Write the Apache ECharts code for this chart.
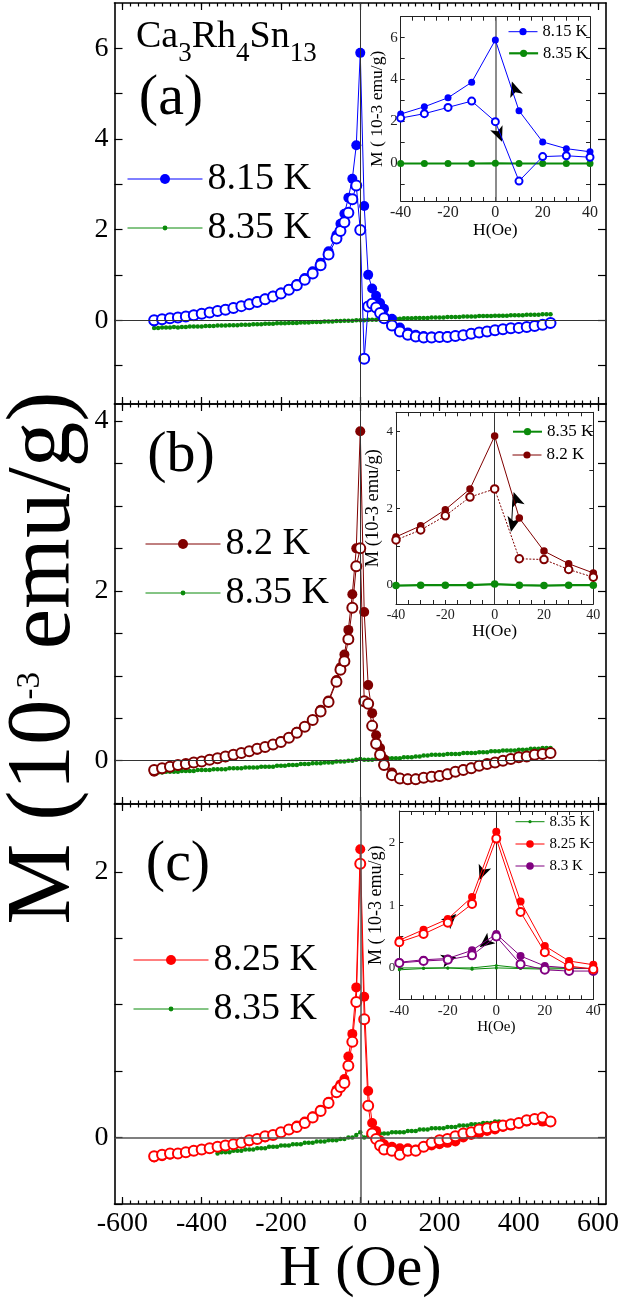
<!DOCTYPE html>
<html><head><meta charset="utf-8">
<script src="https://cdn.jsdelivr.net/npm/echarts@6/dist/echarts.min.js"></script>
<style>html,body{margin:0;padding:0;background:#fff}#c{width:641px;height:1307px}</style>
</head><body><div id="c"></div>
<script>
// ---------------- DATA ----------------
const H_MAIN = [-520,-500,-480,-460,-440,-420,-400,-380,-360,-340,-320,-300,-280,-260,-240,-220,-200,-180,-160,-140,-120,-100,-80,-60,
  -50,-40,-30,-20,-10,0,10,20,30,40,50,
  60,80,100,120,140,160,180,200,220,240,260,280,300,320,340,360,380,400,420,440,460,480];
// panel (a) 8.15 K
const A_815_FILLED = [-0.03,0.01,0.04,0.06,0.09,0.12,0.15,0.18,0.21,0.24,0.28,0.32,0.37,0.42,0.48,0.54,0.61,0.69,0.80,0.93,1.08,1.27,1.52,1.88,
  2.13,2.35,2.70,3.12,3.86,5.90,2.52,1.00,0.70,0.54,0.38,
  0.25,0.03,-0.16,-0.27,-0.32,-0.35,-0.36,-0.36,-0.35,-0.34,-0.32,-0.29,-0.27,-0.24,-0.22,-0.20,-0.18,-0.16,-0.15,-0.13,-0.10,-0.06];
const A_815_OPEN = [0.00,0.02,0.04,0.06,0.08,0.11,0.14,0.17,0.20,0.23,0.27,0.31,0.35,0.40,0.46,0.52,0.59,0.67,0.77,0.89,1.03,1.21,1.45,1.80,
  1.97,2.16,2.37,2.67,2.97,1.99,-0.85,0.30,0.36,0.28,0.16,
  0.04,-0.12,-0.25,-0.32,-0.36,-0.38,-0.38,-0.37,-0.37,-0.35,-0.33,-0.30,-0.27,-0.25,-0.22,-0.20,-0.18,-0.17,-0.15,-0.13,-0.10,-0.06];
// panel (b) 8.2 K
const B_82_FILLED = [-0.13,-0.10,-0.08,-0.06,-0.05,-0.03,-0.01,0.01,0.03,0.04,0.06,0.09,0.11,0.13,0.16,0.19,0.23,0.27,0.34,0.40,0.48,0.60,0.71,0.95,
  1.10,1.25,1.54,1.96,2.50,3.88,1.75,0.89,0.56,0.30,0.15,
  0.02,-0.14,-0.20,-0.21,-0.21,-0.20,-0.18,-0.17,-0.15,-0.13,-0.10,-0.08,-0.06,-0.04,-0.02,0.00,0.02,0.04,0.05,0.07,0.08,0.09];
const B_82_OPEN = [-0.11,-0.09,-0.07,-0.05,-0.04,-0.02,-0.01,0.01,0.03,0.05,0.07,0.09,0.11,0.14,0.16,0.19,0.22,0.27,0.33,0.40,0.48,0.58,0.69,0.93,
  1.07,1.17,1.43,1.80,2.29,2.50,0.70,0.67,0.41,0.20,0.07,
  -0.05,-0.17,-0.21,-0.22,-0.22,-0.20,-0.19,-0.18,-0.16,-0.13,-0.11,-0.09,-0.06,-0.04,-0.02,0.00,0.02,0.04,0.05,0.07,0.08,0.09];
// panel (c) 8.25 K
const C_825_FILLED = [-0.15,-0.14,-0.13,-0.12,-0.11,-0.10,-0.09,-0.08,-0.07,-0.06,-0.05,-0.04,-0.03,-0.01,0.00,0.02,0.04,0.06,0.09,0.12,0.16,0.21,0.27,0.36,
  0.40,0.44,0.61,0.78,1.13,2.17,1.06,0.35,0.11,0.05,-0.02,
  -0.05,-0.07,-0.08,-0.08,-0.09,-0.07,-0.06,-0.05,-0.04,-0.03,0.00,0.02,0.03,0.05,0.06,0.08,0.09,0.11,0.12,0.13,0.12,0.12];
const C_825_OPEN = [-0.14,-0.13,-0.12,-0.12,-0.11,-0.10,-0.09,-0.08,-0.07,-0.06,-0.05,-0.04,-0.02,-0.01,0.01,0.02,0.04,0.06,0.08,0.11,0.15,0.20,0.26,0.34,
  0.38,0.41,0.54,0.72,1.02,2.06,0.89,0.24,0.03,-0.01,-0.06,
  -0.09,-0.10,-0.13,-0.10,-0.10,-0.07,-0.04,-0.02,-0.01,0.01,0.03,0.04,0.06,0.07,0.08,0.09,0.10,0.11,0.13,0.14,0.15,0.12];
// 8.35 K reference curves
const H_835_AB = [-520,-510,-500,-490,-480,-470,-460,-450,-440,-430,-420,-410,-400,-390,-380,-370,-360,-350,-340,-330,
  -320,-310,-300,-290,-280,-270,-260,-250,-240,-230,-220,-210,-200,-190,-180,-170,-160,-150,-140,-130,
  -120,-110,-100,-90,-80,-70,-60,-50,-40,-30,-20,-10,0,10,20,30,40,50,60,70,
  80,90,100,110,120,130,140,150,160,170,180,190,200,210,220,230,240,250,260,270,
  280,290,300,310,320,330,340,350,360,370,380,390,400,410,420,430,440,450,460,470,480];
const A_835 = [-0.17,-0.17,-0.16,-0.16,-0.16,-0.15,-0.16,-0.15,-0.15,-0.14,
  -0.14,-0.14,-0.14,-0.13,-0.13,-0.13,-0.12,-0.12,-0.12,-0.11,
  -0.11,-0.11,-0.10,-0.10,-0.10,-0.09,-0.09,-0.09,-0.08,-0.08,
  -0.08,-0.07,-0.07,-0.07,-0.06,-0.06,-0.06,-0.05,-0.05,-0.05,
  -0.04,-0.04,-0.04,-0.03,-0.03,-0.03,-0.02,-0.02,-0.01,-0.01,
  -0.01,0.00,0.00,0.00,0.01,0.01,0.01,0.02,0.02,0.02,
  0.03,0.03,0.03,0.04,0.04,0.04,0.05,0.05,0.05,0.05,
  0.06,0.06,0.06,0.06,0.07,0.07,0.07,0.07,0.08,0.08,
  0.08,0.08,0.09,0.09,0.09,0.09,0.10,0.10,0.10,0.10,
  0.11,0.11,0.11,0.11,0.12,0.12,0.12,0.12,0.13,0.13,0.13];
const B_835 = [-0.14,-0.14,-0.14,-0.13,-0.13,-0.13,-0.13,-0.12,-0.12,-0.12,
  -0.12,-0.11,-0.11,-0.11,-0.11,-0.10,-0.10,-0.10,-0.10,-0.09,
  -0.09,-0.09,-0.09,-0.08,-0.08,-0.08,-0.08,-0.07,-0.07,-0.07,
  -0.07,-0.06,-0.06,-0.06,-0.05,-0.05,-0.05,-0.04,-0.04,-0.04,
  -0.03,-0.03,-0.03,-0.02,-0.02,-0.02,-0.01,-0.01,-0.01,0.00,
  0.00,0.01,0.02,0.01,0.01,0.01,0.02,0.02,0.02,0.03,
  0.03,0.03,0.03,0.04,0.04,0.04,0.05,0.05,0.06,0.06,
  0.07,0.07,0.07,0.07,0.08,0.08,0.08,0.08,0.09,0.09,
  0.09,0.09,0.10,0.10,0.10,0.11,0.11,0.11,0.12,0.12,
  0.12,0.12,0.13,0.13,0.13,0.14,0.14,0.14,0.15,0.15,0.15];
const H_835_C = [-360,-350,-340,-330,-320,-310,-300,-290,-280,-270,-260,-250,-240,-230,-220,-210,-200,-190,-180,-170,
  -160,-150,-140,-130,-120,-110,-100,-90,-80,-70,-60,-50,-40,-30,-20,-10,0,10,20,30,
  40,50,60,70,80,90,100,110,120,130,140,150,160,170,180,190,200,210,220,230,
  240,250,260,270,280,290,300,310,320,330,340,350];
const C_835 = [-0.12,-0.11,-0.11,-0.11,-0.10,-0.10,-0.10,-0.09,-0.09,-0.09,
  -0.08,-0.08,-0.08,-0.07,-0.07,-0.07,-0.06,-0.06,-0.06,-0.05,
  -0.05,-0.05,-0.04,-0.04,-0.04,-0.03,-0.03,-0.03,-0.02,-0.02,
  -0.02,-0.01,-0.01,0.00,0.00,0.02,0.04,0.00,0.01,0.02,
  0.02,0.03,0.03,0.03,0.04,0.04,0.04,0.04,0.05,0.05,
  0.05,0.06,0.06,0.06,0.07,0.07,0.07,0.07,0.08,0.08,
  0.08,0.09,0.09,0.09,0.10,0.10,0.10,0.11,0.11,0.11,
  0.12,0.12];
// insets (H = -40 ... 40 Oe)
const H_IN = [-40,-30,-20,-10,0,10,20,30,40];
const IA_815_FILLED = [2.35,2.70,3.13,3.87,5.89,2.51,1.02,0.70,0.55];
const IA_815_OPEN = [2.16,2.37,2.67,2.97,1.99,-0.85,0.32,0.36,0.29];
const IA_835 = [-0.01,-0.01,-0.01,-0.01,0.00,-0.01,-0.01,-0.01,-0.01];
const IB_82_FILLED = [1.25,1.54,1.96,2.50,3.88,1.74,0.88,0.55,0.31];
const IB_82_OPEN = [1.17,1.43,1.80,2.29,2.50,0.68,0.66,0.40,0.20];
const IB_835 = [-0.02,-0.01,-0.01,-0.01,0.02,-0.01,-0.02,-0.01,-0.01];
const IC_825_FILLED = [0.44,0.61,0.78,1.13,2.17,1.06,0.35,0.11,0.05];
const IC_825_OPEN = [0.41,0.54,0.72,1.02,2.06,0.89,0.25,0.03,-0.02];
const IC_83_FILLED = [0.09,0.13,0.15,0.28,0.54,0.19,0.03,0.00,-0.01];
const IC_83_OPEN = [0.08,0.11,0.13,0.20,0.50,0.06,-0.03,-0.05,-0.05];
const IC_835_UP = [-0.03,-0.01,0.00,-0.02,0.00,-0.01,-0.02,-0.01,-0.01];
const IC_835_DOWN = [0.00,0.00,0.00,0.00,0.04,0.00,0.00,0.00,-0.01];
// arrows [H, M, rotation deg]
const ARROWS_A = [[7.0,3.9,18],[2.8,1.03,202]];
const ARROWS_B = [[7.7,2.42,18],[6.6,1.38,168]];
const ARROW_LINE_B = [[7.5,2.3],[6.8,1.5]];
const ARROWS_C = [[-6.9,1.40,159],[-16.5,0.86,-46],[-6.9,0.33,128],[-16.5,0.17,-75]];
// ticks
const X_MAJOR = [-600,-400,-200,0,200,400,600];
const XI_LABELS = [-40,-20,0,20,40];
const Y_TICKS_A = [-1,0,1,2,3,4,5,6], Y_LABELS_A = [0,2,4,6];
const Y_TICKS_B = [-0.5,0,0.5,1,1.5,2,2.5,3,3.5,4], Y_LABELS_B = [0,2,4];
const Y_TICKS_C = [-0.5,0,0.5,1,1.5,2], Y_LABELS_C = [0,2];
const YI_TICKS_A = [-1,0,1,2,3,4,5,6], YI_LABELS_A = [0,2,4,6];
const YI_TICKS_B = [0,1,2,3,4], YI_LABELS_B = [0,2,4];
const YI_TICKS_C = [-0.5,0,0.5,1,1.5,2], YI_LABELS_C = [0,1,2];

// ---------------- BUILD ----------------
const FONT = 'Liberation Serif';
const X_MINOR = []; for (let v = -600; v <= 600; v += 20) X_MINOR.push(v);
const XI_TICKS = []; for (let v = -40; v <= 40; v += 5) XI_TICKS.push(v);
const zip = (xs, ys) => xs.map((x, i) => [x, ys[i]]);
const grids = [], xAxes = [], yAxes = [], series = [], legends = [], graphics = [];

function xAxis(gi, pos, min, max, o) {
  xAxes.push({type: 'value', gridIndex: gi, position: pos, min, max, splitLine: {show: false},
    axisLine: {show: o.line !== false, onZero: false, lineStyle: {color: o.color, width: o.lw}},
    axisTick: {show: true, inside: true, length: o.tl, customValues: o.ticks, lineStyle: {color: o.color, width: o.tw}},
    axisLabel: {show: !!o.labels, customValues: o.labels || [], margin: o.margin || 6, fontFamily: FONT, fontSize: o.fs || 12, color: o.lc || '#000'},
    name: o.name || '', nameLocation: 'middle', nameGap: o.nameGap || 0,
    nameTextStyle: {fontFamily: FONT, fontSize: o.nameFs || 12, color: '#000', lineHeight: o.nameLh || o.nameFs || 12}
  });
  return xAxes.length - 1;
}
function yAxis(gi, pos, min, max, o) {
  yAxes.push({type: 'value', gridIndex: gi, position: pos, min, max, splitLine: {show: false},
    axisLine: {show: true, onZero: false, lineStyle: {color: o.color, width: o.lw}},
    axisTick: {show: true, inside: true, length: o.tl, customValues: o.ticks, lineStyle: {color: o.color, width: o.tw}},
    axisLabel: {show: !!o.labels, customValues: o.labels || [], margin: o.margin || 6, fontFamily: FONT, fontSize: o.fs || 12, color: o.lc || '#000'},
    name: o.name || '', nameLocation: 'middle', nameGap: o.nameGap || 0, nameRotate: 90,
    nameTextStyle: {fontFamily: FONT, fontSize: o.nameFs || 12, color: '#000'}
  });
  return yAxes.length - 1;
}

function mainPanel(top, height, ymin, ymax, yTicks, yLabels, showX) {
  grids.push({left: 114.5, top, width: 491.5, height});
  const gi = grids.length - 1;
  const base = {color: '#000', lw: 1.6, tw: 1.2};
  const xi = xAxis(gi, 'bottom', -620, 620, Object.assign({}, base, {tl: 7, ticks: X_MAJOR,
    labels: showX ? X_MAJOR : null, fs: 28, margin: 6,
    name: showX ? 'H (Oe)' : '', nameGap: 36, nameFs: 58, nameLh: 60}));
  xAxis(gi, 'bottom', -620, 620, Object.assign({}, base, {tl: 3.5, ticks: X_MINOR, line: false}));
  xAxis(gi, 'top', -620, 620, Object.assign({}, base, {tl: 7, ticks: X_MAJOR}));
  xAxis(gi, 'top', -620, 620, Object.assign({}, base, {tl: 3.5, ticks: X_MINOR, line: false}));
  const yi = yAxis(gi, 'left', ymin, ymax, Object.assign({}, base, {tl: 8, ticks: yTicks, labels: yLabels, fs: 28, margin: 6}));
  yAxis(gi, 'right', ymin, ymax, Object.assign({}, base, {tl: 8, ticks: yTicks}));
  return {xi, yi};
}
function insetPanel(left, top, width, height, ymin, ymax, yTicks, yLabels, o) {
  grids.push({left, top, width, height});
  const gi = grids.length - 1;
  const base = {color: '#222', lw: 1, tw: 1, lc: '#222'};
  const xi = xAxis(gi, 'bottom', -40, 40, Object.assign({}, base, {tl: 4, ticks: XI_TICKS, labels: XI_LABELS,
    fs: o.xfs, margin: 4, name: o.xname, nameGap: o.xgap, nameFs: o.xnfs}));
  xAxis(gi, 'top', -40, 40, Object.assign({}, base, {tl: 4, ticks: XI_TICKS}));
  const yi = yAxis(gi, 'left', ymin, ymax, Object.assign({}, base, {tl: 4, ticks: yTicks, labels: yLabels,
    fs: o.yfs, margin: o.ymargin, name: o.yname, nameGap: o.ygap, nameFs: o.ynfs}));
  yAxis(gi, 'right', ymin, ymax, Object.assign({}, base, {tl: 4, ticks: yTicks}));
  return {xi, yi};
}

function lineSeries(ax, name, H, M, color, o) {
  const s = {type: 'line', name, xAxisIndex: ax.xi, yAxisIndex: ax.yi, data: zip(H, M),
    symbol: o.open ? 'emptyCircle' : 'circle', symbolSize: o.size, showSymbol: true,
    lineStyle: {color, width: o.lw || 1, type: o.dash || 'solid'},
    itemStyle: o.open ? {color, borderColor: color, borderWidth: o.bw || 1.2} : {color, borderWidth: 0},
    emphasis: {disabled: true}, z: o.z || 2, animation: false, silent: true};
  if (o.markLine) s.markLine = o.markLine;
  if (o.markPoint) s.markPoint = o.markPoint;
  series.push(s);
  return s;
}
function zeroLines(color, width, both) {
  const d = [{xAxis: 0}];
  if (both) d.push({yAxis: 0});
  return {silent: true, symbol: ['none', 'none'], label: {show: false}, lineStyle: {color, width, type: 'solid'},
    emphasis: {disabled: true}, data: d, animation: false};
}
function arrows(list) {
  return {silent: true, symbol: 'arrow', label: {show: false}, itemStyle: {color: '#000'}, animation: false,
    data: list.map(a => ({coord: [a[0], a[1]], symbolRotate: a[2], symbolSize: [10, 15]}))};
}
function leg(name, left, cy, o) {
  const lh = o.lh;
  legends.push({show: true, selectedMode: false, orient: 'horizontal', left, top: cy - Math.max(lh, o.ih) / 2,
    padding: 0, itemWidth: o.iw, itemHeight: o.ih, itemTextGap: o.gap, itemGap: 0,
    textStyle: {fontFamily: FONT, fontSize: o.fs, lineHeight: lh, color: '#000'},
    data: [{name, itemStyle: {color: o.color, borderColor: o.color, borderWidth: 0}, lineStyle: {color: o.color, width: o.lw}}]});
}

const BLUE = '#0000ff', GREEN = '#0a8a0a', DRED = '#800000', RED = '#ff0000', PURPLE = '#800080';

// main panels
const pa = mainPanel(3, 401, -1.85, 7.0, Y_TICKS_A, Y_LABELS_A, false);
const pb = mainPanel(404, 400, -0.51, 4.2, Y_TICKS_B, Y_LABELS_B, false);
const pc = mainPanel(804, 400, -0.5, 2.51, Y_TICKS_C, Y_LABELS_C, true);

lineSeries(pa, '8.35 K', H_835_AB, A_835, GREEN, {size: 4.5, markLine: zeroLines('#333', 1, true)});
lineSeries(pa, '8.15 K', H_MAIN, A_815_FILLED, BLUE, {size: 10, z: 3});
lineSeries(pa, '8.15 K open', H_MAIN, A_815_OPEN, BLUE, {size: 10, open: true, z: 4});

lineSeries(pb, '8.35 K', H_835_AB, B_835, GREEN, {size: 4.5, markLine: zeroLines('#333', 1, true)});
lineSeries(pb, '8.2 K', H_MAIN, B_82_FILLED, DRED, {size: 10, z: 3});
lineSeries(pb, '8.2 K open', H_MAIN, B_82_OPEN, DRED, {size: 10, open: true, z: 4});

lineSeries(pc, '8.35 K', H_835_C, C_835, GREEN, {size: 4.5, markLine: zeroLines('#555', 1.5, true)});
lineSeries(pc, '8.25 K', H_MAIN, C_825_FILLED, RED, {size: 10, z: 3});
lineSeries(pc, '8.25 K open', H_MAIN, C_825_OPEN, RED, {size: 10, open: true, z: 4});

// insets
const ia = insetPanel(400.7, 16.7, 189.3, 184.3, -1.8, 7.0, YI_TICKS_A, YI_LABELS_A,
  {xfs: 16, xname: 'H(Oe)', xgap: 20, xnfs: 17.5, yfs: 15, ymargin: 3, yname: 'M ( 10-3 emu/g)', ygap: 14, ynfs: 17.5});
lineSeries(ia, '8.35 K', H_IN, IA_835, GREEN, {size: 7, lw: 2.2, z: 5, markLine: zeroLines('#666', 1.5, false)});
lineSeries(ia, '8.15 K', H_IN, IA_815_FILLED, BLUE, {size: 7, z: 5});
lineSeries(ia, '8.15 K open', H_IN, IA_815_OPEN, BLUE, {size: 7, open: true, z: 6, markPoint: arrows(ARROWS_A)});

const ib = insetPanel(396, 412.3, 197.3, 191.7, -0.5, 4.5, YI_TICKS_B, YI_LABELS_B,
  {xfs: 14, xname: 'H(Oe)', xgap: 19, xnfs: 17.5, yfs: 13, ymargin: 3, yname: 'M (10-3 emu/g)', ygap: 10, ynfs: 18.5});
lineSeries(ib, '8.35 K', H_IN, IB_835, GREEN, {size: 7.5, lw: 2.2, z: 5, markLine: zeroLines('#333', 1, false)});
lineSeries(ib, '8.2 K', H_IN, IB_82_FILLED, DRED, {size: 7.5, z: 5});
lineSeries(ib, '8.2 K open', H_IN, IB_82_OPEN, DRED, {size: 7.5, open: true, z: 6, dash: [2, 1.5], markPoint: arrows(ARROWS_B)});
series.push({type: 'line', name: 'arrow b', xAxisIndex: ib.xi, yAxisIndex: ib.yi, data: ARROW_LINE_B, symbol: 'none',
  lineStyle: {color: '#000', width: 1}, z: 7, silent: true, animation: false});

const ic = insetPanel(399.3, 811, 194, 188.3, -0.5, 2.5, YI_TICKS_C, YI_LABELS_C,
  {xfs: 15, xname: 'H(Oe)', xgap: 18, xnfs: 15, yfs: 13, ymargin: 4, yname: 'M ( 10-3 emu/g)', ygap: 12, ynfs: 18});
lineSeries(ic, '8.35 K', H_IN, IC_835_UP, GREEN, {size: 3, z: 5, markLine: zeroLines('#222', 1, false)});
lineSeries(ic, '8.35 K b', H_IN, IC_835_DOWN, GREEN, {size: 3, z: 5});
lineSeries(ic, '8.3 K', H_IN, IC_83_FILLED, PURPLE, {size: 8, z: 5});
lineSeries(ic, '8.3 K open', H_IN, IC_83_OPEN, PURPLE, {size: 8, open: true, z: 6});
lineSeries(ic, '8.25 K', H_IN, IC_825_FILLED, RED, {size: 8, z: 5});
lineSeries(ic, '8.25 K open', H_IN, IC_825_OPEN, RED, {size: 8, open: true, z: 6, markPoint: arrows(ARROWS_C)});

// legends (main)
const ML = {fs: 38, lh: 40, iw: 75, gap: 10};
leg('8.15 K', 127, 179, Object.assign({}, ML, {ih: 12.5, color: BLUE, lw: 1}));
leg('8.35 K', 127, 228, Object.assign({}, ML, {ih: 6, color: GREEN, lw: 1}));
leg('8.2 K', 145, 544, Object.assign({}, ML, {ih: 12.5, color: DRED, lw: 1}));
leg('8.35 K', 145, 593, Object.assign({}, ML, {ih: 6, color: GREEN, lw: 1}));
leg('8.25 K', 133, 960, Object.assign({}, ML, {ih: 12.5, color: RED, lw: 1}));
leg('8.35 K', 133, 1009, Object.assign({}, ML, {ih: 6, color: GREEN, lw: 1}));
// legends (insets)
const IL = {lh: 18, iw: 29, gap: 5};
leg('8.15 K', 508, 31.7, Object.assign({}, IL, {fs: 16.5, ih: 9, color: BLUE, lw: 1}));
leg('8.35 K', 508, 53.3, Object.assign({}, IL, {fs: 16.5, ih: 9, color: GREEN, lw: 2.2}));
leg('8.35 K', 512, 431.7, Object.assign({}, IL, {fs: 17, ih: 9, color: GREEN, lw: 2}));
leg('8.2 K', 512, 455, Object.assign({}, IL, {fs: 17, ih: 9, color: DRED, lw: 1}));
leg('8.35 K', 515, 821.7, Object.assign({}, IL, {fs: 15, ih: 4, color: GREEN, lw: 1, gap: 7}));
leg('8.25 K', 515, 844, Object.assign({}, IL, {fs: 15, ih: 9.5, color: RED, lw: 1, gap: 7}));
leg('8.3 K', 515, 866, Object.assign({}, IL, {fs: 15, ih: 9.5, color: PURPLE, lw: 1, gap: 7}));

// texts
graphics.push({type: 'text', left: 136, top: 18, silent: true, style: {
  text: '{a|Ca}{s|3}{a|Rh}{s|4}{a|Sn}{s|13}', fill: '#000',
  rich: {a: {fontFamily: FONT, fontSize: 38, lineHeight: 38, verticalAlign: 'top'},
         s: {fontFamily: FONT, fontSize: 27, lineHeight: 49, verticalAlign: 'bottom'}}}});
[['(a)', 171, 99], ['(b)', 181, 455.5], ['(c)', 178, 864.5]].forEach(t => {
  graphics.push({type: 'text', x: t[1], y: t[2], silent: true, style: {text: t[0], fill: '#000',
    font: '58px "Liberation Serif"', align: 'center', verticalAlign: 'middle'}});
});
graphics.push({type: 'text', x: 45, y: 658, rotation: Math.PI / 2, silent: true, style: {
  text: '{a|M (10}{s|-3}{a| emu/g)}', fill: '#000', align: 'center', verticalAlign: 'middle',
  rich: {a: {fontFamily: FONT, fontSize: 91, lineHeight: 91, verticalAlign: 'top'},
         s: {fontFamily: FONT, fontSize: 33, lineHeight: 40, verticalAlign: 'top', padding: [14, 0, 0, 0]}}}});

const chart = echarts.init(document.getElementById('c'), null, {renderer: 'canvas'});
chart.setOption({animation: false, backgroundColor: '#fff', grid: grids, xAxis: xAxes, yAxis: yAxes,
  series, legend: legends, graphic: graphics, tooltip: {show: false}});
</script></body></html>
